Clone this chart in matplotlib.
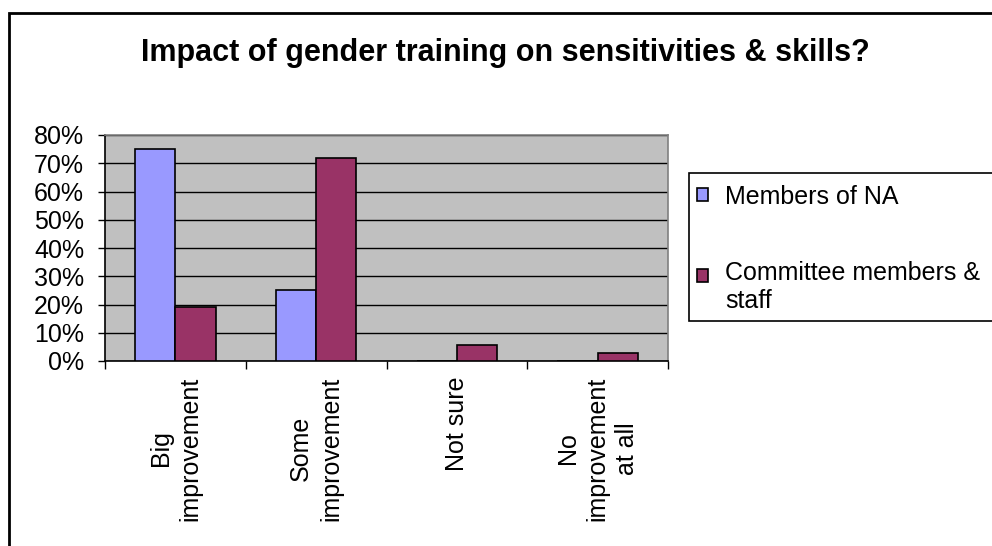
import matplotlib
matplotlib.use("Agg")
import matplotlib.pyplot as plt
from matplotlib.patches import Rectangle, Patch
import numpy as np

plt.rcParams['font.family'] = ['Liberation Sans', 'DejaVu Sans']

# Survey responses (share of respondents)
categories = ["Big\nimprovement", "Some\nimprovement", "Not sure", "No\nimprovement\nat all"]
series_names = ["Members of NA", "Committee members &\nstaff"]
members_na = [0.75, 0.25, 0.0, 0.0]
committee_staff = [0.19, 0.72, 0.056, 0.028]
y_ticks = [0.0, 0.1, 0.2, 0.3, 0.4, 0.5, 0.6, 0.7, 0.8]
y_tick_labels = ["0%", "10%", "20%", "30%", "40%", "50%", "60%", "70%", "80%"]

colors = ["#9999FF", "#993366"]

W, H = 992, 546
fig = plt.figure(figsize=(W / 100, H / 100), dpi=100)
fig.patch.set_facecolor("white")

# Chart-area frame (runs off the right and bottom edges)
fig.patches.append(Rectangle((9 / W, -0.05), 1.1, 1 - 13 / H + 0.05,
                             transform=fig.transFigure, fill=False,
                             edgecolor="black", linewidth=2, zorder=0))

ax = fig.add_axes([105 / W, 1 - 361 / H, (668 - 105) / W, (361 - 135) / H])
ax.set_facecolor("#C0C0C0")

x = np.arange(len(categories))
bw = 1 / 3.5
ax.bar(x - bw / 2, members_na, bw, color=colors[0], edgecolor="black",
       linewidth=1.2, zorder=3, label=series_names[0])
ax.bar(x + bw / 2, committee_staff, bw, color=colors[1], edgecolor="black",
       linewidth=1.2, zorder=3, label=series_names[1])

ax.set_xlim(-0.5, len(categories) - 0.5)
ax.set_ylim(0, 0.8)

ax.set_yticks(y_ticks)
ax.set_yticklabels(y_tick_labels, fontsize=18)
ax.yaxis.grid(True, color="black", linewidth=1)
ax.set_axisbelow(True)
ax.tick_params(axis="y", direction="out", length=5, width=1, pad=10, color="black")

# Category labels at centres, tick marks at the boundaries
ax.set_xticks(x)
ax.set_xticklabels(categories, rotation=90, fontsize=18, linespacing=1.3,
                   multialignment="center")
ax.tick_params(axis="x", which="major", length=0, pad=11)
ax.set_xticks(np.arange(len(categories) + 1) - 0.5, minor=True)
ax.tick_params(axis="x", which="minor", direction="out", length=6, width=1, color="black")

for s in ["left", "bottom"]:
    ax.spines[s].set_color("black")
    ax.spines[s].set_linewidth(1.2)
for s in ["top", "right"]:
    ax.spines[s].set_color("#808080")
    ax.spines[s].set_linewidth(1.2)

fig.text(505 / W, 1 - 53 / H, "Impact of gender training on sensitivities & skills?",
         ha="center", va="center", fontsize=22, fontweight="bold")

# Legend box (extends past the right edge)
fig.patches.append(Rectangle((689 / W, 1 - 321 / H), 0.5, (321 - 173) / H,
                             transform=fig.transFigure, facecolor="white",
                             edgecolor="black", linewidth=1.2, zorder=1))

handles = [Patch(facecolor=colors[0], edgecolor="black", linewidth=1.2),
           Patch(facecolor=colors[1], edgecolor="black", linewidth=1.2)]
leg = fig.legend(handles, series_names, loc="upper left",
                 bbox_to_anchor=(689 / W, 1 - 177 / H), fontsize=18,
                 frameon=False, borderpad=0.3, labelspacing=2.1,
                 handlelength=0.45, handleheight=0.45, handletextpad=0.7,
                 borderaxespad=0)
leg.set_zorder(2)
# keep the key of the two-line entry level with its first line
h2 = leg.legend_handles[1]
h2.set_y(h2.get_y() + 8.5)

fig.savefig("out.png", dpi=100)
